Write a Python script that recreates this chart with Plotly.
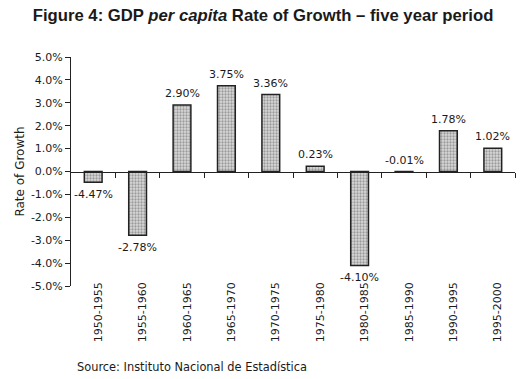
import plotly.graph_objects as go

periods = ["1950-1955", "1955-1960", "1960-1965", "1965-1970", "1970-1975",
           "1975-1980", "1980-1985", "1985-1990", "1990-1995", "1995-2000"]
growth = [-0.47, -2.78, 2.90, 3.75, 3.36, 0.23, -4.10, -0.01, 1.78, 1.02]
labels = ["-4.47%", "-2.78%", "2.90%", "3.75%", "3.36%", "0.23%", "-4.10%", "-0.01%", "1.78%", "1.02%"]
ytick_vals = [-5, -4, -3, -2, -1, 0, 1, 2, 3, 4, 5]
ytick_text = ["-5.0%", "-4.0%", "-3.0%", "-2.0%", "-1.0%", "0.0%", "1.0%", "2.0%", "3.0%", "4.0%", "5.0%"]

FONT = "DejaVu Sans"
TFONT = "Liberation Sans"
TXT = "#1a1a1a"
idx = list(range(len(periods)))

fig = go.Figure()
fig.add_trace(go.Bar(
    x=idx, y=growth, width=0.4,
    marker=dict(color="#c8c8c8", line=dict(color="#222", width=1.5),
                pattern=dict(shape=".", fgcolor="#5a5a5a", bgcolor="#dadada", size=3, solidity=0.45)),
    hoverinfo="skip", showlegend=False,
))

for i, v, t in zip(idx, growth, labels):
    above = v >= -0.05
    fig.add_annotation(x=i, y=(max(v, 0) if above else v), text=t, showarrow=False,
                       yanchor="bottom" if above else "top", yshift=3 if above else -4,
                       font=dict(family=FONT, size=11, color=TXT))

fig.update_layout(
    width=528, height=379,
    margin=dict(l=71, r=13, t=57, b=93),
    paper_bgcolor="white", plot_bgcolor="white",
    font=dict(family=FONT, size=11, color=TXT),
    title=dict(text="<b>Figure 4: GDP <i>per capita</i> Rate of Growth – five year period</b>",
               x=0.062, xanchor="left", y=0.96, yanchor="middle",
               font=dict(family=TFONT, size=16.7, color=TXT)),
    xaxis=dict(range=[-0.5, 9.5], tickvals=idx, ticktext=periods, tickangle=-90,
               showline=False, ticks="", showgrid=False, zeroline=False,
               ticklabelstandoff=-7, ticklabelshift=5,
               tickfont=dict(family=FONT, size=11, color=TXT)),
    xaxis2=dict(range=[-0.5, 9.5], overlaying="x", anchor="free", position=0.5,
                side="bottom", showline=True, linecolor="#222", linewidth=1,
                tickvals=[i + 0.5 for i in idx], showticklabels=False,
                ticks="outside", ticklen=5, tickcolor="#222", showgrid=False, zeroline=False),
    yaxis=dict(range=[-5, 5], tickvals=ytick_vals, ticktext=ytick_text,
               showline=True, linecolor="#222", linewidth=1, ticks="outside", ticklen=5,
               tickcolor="#222", showgrid=False, zeroline=False,
               tickfont=dict(family=FONT, size=11, color=TXT),
               title=dict(text="Rate of Growth", standoff=3, font=dict(family=FONT, size=12, color=TXT))),
)
fig.add_trace(go.Scatter(x=[None], y=[None], xaxis="x2", showlegend=False, hoverinfo="skip"))

fig.add_annotation(text="Source: Instituto Nacional de Estadística", xref="paper", yref="paper",
                   x=(75 - 71) / 444, y=-(367 - 286) / 229, xanchor="left", yanchor="middle",
                   showarrow=False, font=dict(family=FONT, size=11.4, color=TXT))

fig.write_html("out.html", config={"displayModeBar": False},
               post_script="document.body.style.margin='0';document.body.style.padding='0';")
